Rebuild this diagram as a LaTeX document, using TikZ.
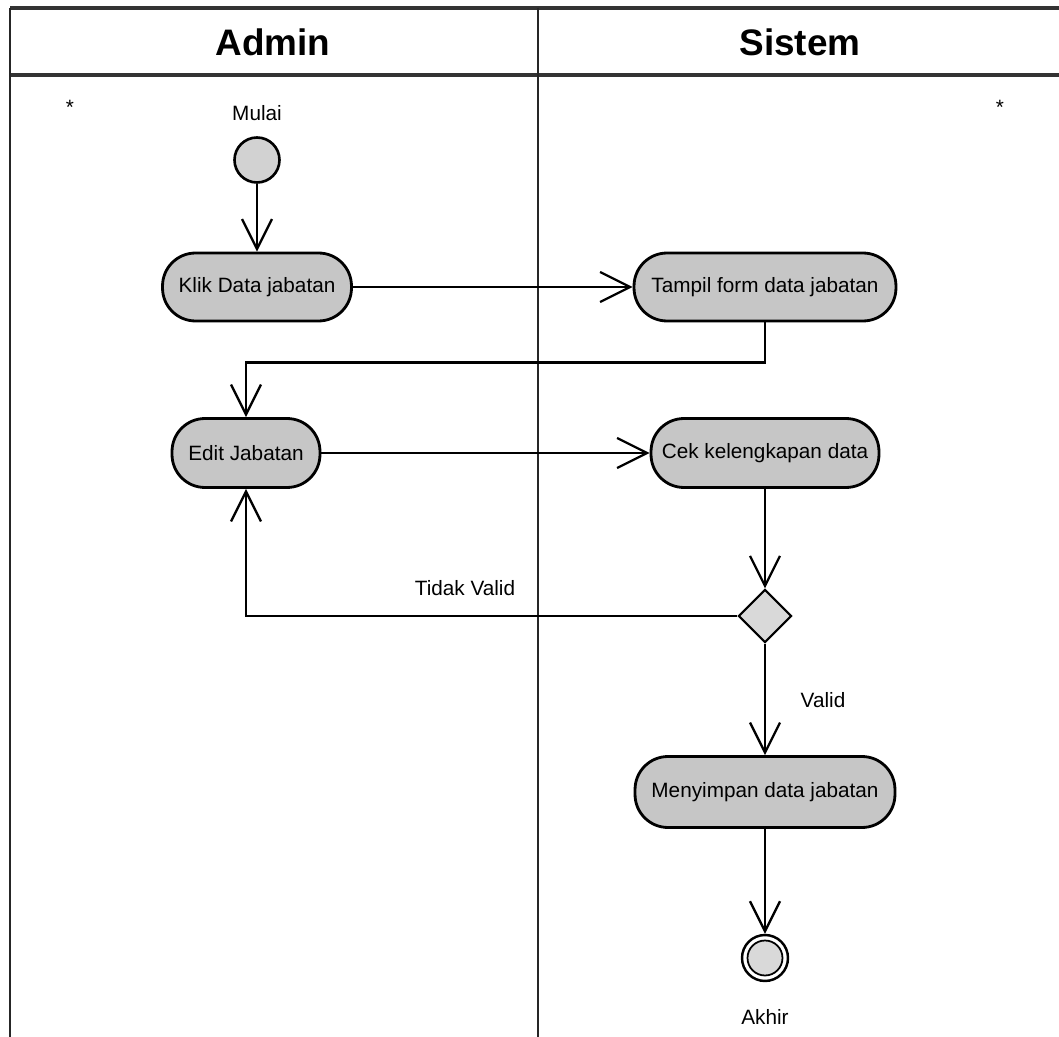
\documentclass[tikz,border=0pt]{standalone}
\usepackage{fontspec}
\setmainfont{Liberation Sans}
\usetikzlibrary{arrows.meta,shapes.geometric,calc}
\tikzset{
  act/.style={draw=black, line width=1.6pt, fill=gray!45, rounded corners=0.66cm,
    minimum height=1.36cm, inner sep=2pt, font=\fontsize{11.8}{13}\selectfont},
  lbl/.style={font=\fontsize{11.8}{13}\selectfont, inner sep=1pt},
  hdr/.style={font=\fontsize{21}{24}\selectfont\bfseries},
  conn/.style={line width=1.3pt, -{Straight Barb[length=0.6cm,width=0.6cm]}},
  frame/.style={line width=1.3pt, draw=black!85},
  hframe/.style={line width=1.9pt, draw=black!80},
}
\begin{document}
\begin{tikzpicture}[x=0.02cm,y=-0.02cm]
\useasboundingbox[fill=white] (0,0) rectangle (1059,1037);
% frame
\draw[hframe] (10,8) -- (1059,8);
\draw[hframe] (10,75) -- (1059,75);
\draw[frame] (10,8) -- (10,1037);
\draw[frame] (538,8) -- (538,1037);
\node[hdr] (hadmin) at (273,42) {Admin};
\node[hdr] (hsistem) at (800,42) {Sistem};
\node[lbl] (ast1) at (70,107) {*};
\node[lbl] (ast2) at (1000,107) {*};
% start
\node[lbl] (mulai) at (257,113) {Mulai};
\node[circle, draw, line width=1.5pt, fill=gray!35, minimum size=0.9cm, inner sep=0] (start) at (257,160) {};
% activities
\node[act, minimum width=3.78cm] (klik) at (257,287) {Klik Data jabatan};
\node[act, minimum width=5.24cm] (tampil) at (765,287) {Tampil form data jabatan};
\node[act, minimum width=2.96cm, minimum height=1.38cm] (edit) at (246,453) {Edit Jabatan};
\node[act, minimum width=4.56cm, minimum height=1.38cm] (cek) at (765,453) {Cek kelengkapan data};
\node[diamond, draw, line width=1.2pt, fill=gray!30, minimum width=1.06cm, minimum height=1.06cm, inner sep=0] (dia) at (765,616) {};
\node[act, minimum width=5.2cm, minimum height=1.42cm] (simpan) at (765,792) {Menyimpan data jabatan};
% end
\node[circle, draw, line width=1.4pt, fill=white, minimum size=0.92cm, inner sep=0] (akhir) at (765,958) {};
\node[circle, draw, line width=1.0pt, fill=gray!30, minimum size=0.7cm, inner sep=0] (akhirin) at (765,958) {};
\node[lbl] (akhirlbl) at (765,1017) {Akhir};
% labels
\node[lbl] (tv) at (465,588) {Tidak Valid};
\node[lbl] (valid) at (823,700) {Valid};
% connectors
\draw[conn] (start) -- (klik);
\draw[conn] (klik) -- (tampil);
\draw[conn] (tampil.south) -- ++(0,40) -| (edit.north);
\draw[conn] (edit) -- (cek);
\draw[conn] (cek) -- (dia);
\draw[conn] (dia.west) -| (edit.south);
\draw[conn] (dia) -- (simpan);
\draw[conn] (simpan) -- (akhir);
\end{tikzpicture}
\end{document}
